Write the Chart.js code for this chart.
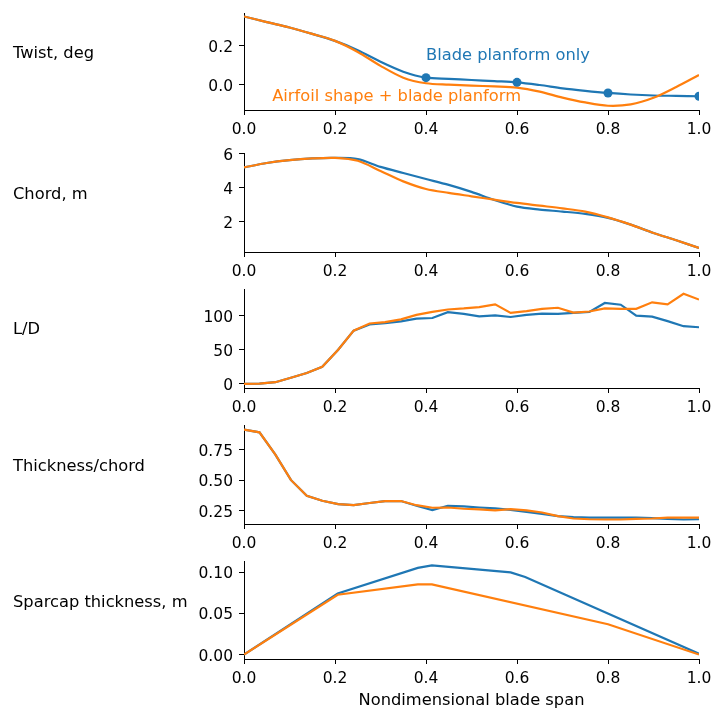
<!DOCTYPE html>
<html>
<head>
<meta charset="utf-8">
<script src="https://cdn.jsdelivr.net/npm/chart.js@4.4.1/dist/chart.umd.min.js"></script>
<style>
html,body{margin:0;padding:0;background:#fff;}
#wrap{position:relative;width:712px;height:711px;overflow:hidden;background:#fff;}
#wrap canvas{position:absolute;left:0;}
</style>
</head>
<body>
<div id="wrap"></div>
<script>
// ---------- data ----------
const spanTwist = [0,0.05,0.1,0.15,0.2,0.25,0.3,0.35,0.4,0.45,0.5,0.55,0.6,0.65,0.7,0.75,0.8,0.85,0.9,0.95,1.0];
const twistPlanform = [0.352,0.323,0.295,0.262,0.226,0.178,0.118,0.067,0.036,0.030,0.024,0.018,0.012,-0.002,-0.019,-0.032,-0.043,-0.051,-0.056,-0.058,-0.060];
const twistAirfoil  = [0.352,0.323,0.295,0.262,0.226,0.169,0.097,0.036,0.007,0.000,-0.005,-0.009,-0.015,-0.036,-0.067,-0.092,-0.109,-0.102,-0.068,-0.012,0.050];
const twistCtrlSpan = [0.4,0.6,0.8,1.0];
const twistCtrlValues = [0.036,0.012,-0.043,-0.060];

const spanChord = [0,0.05,0.1,0.15,0.2,0.25,0.3,0.35,0.4,0.45,0.5,0.55,0.6,0.65,0.7,0.75,0.8,0.85,0.9,0.95,1.0];
const chordPlanform = [5.19,5.45,5.62,5.72,5.75,5.68,5.22,4.86,4.51,4.16,3.75,3.27,2.88,2.71,2.59,2.45,2.22,1.82,1.33,0.90,0.45];
const chordAirfoil  = [5.19,5.45,5.62,5.72,5.75,5.58,4.98,4.37,3.92,3.69,3.49,3.29,3.10,2.94,2.78,2.59,2.25,1.82,1.33,0.90,0.45];

const spanAero = [0,0.034,0.069,0.103,0.138,0.172,0.207,0.241,0.276,0.31,0.345,0.379,0.414,0.448,0.483,0.517,0.552,0.586,0.621,0.655,0.69,0.724,0.759,0.793,0.828,0.862,0.897,0.931,0.966,1.0];
const ldPlanform = [0,0.3,2.5,9,16,25,50,78,87,89,91.5,95.5,96.5,105,102.5,99,100.5,98,101,103,102.5,104,105.5,118.5,116,100,98.5,92,84.5,83];
const ldAirfoil  = [0,0.3,2.5,9,16,25,50,78,88.5,90.5,94.5,101,105.5,109,110.5,112.5,116.5,104,106.5,110,111.5,104.5,106,110.5,110,110,119.5,116.5,132,123.5];
const tcPlanform = [0.916,0.893,0.71,0.503,0.374,0.332,0.305,0.297,0.314,0.33,0.33,0.291,0.256,0.291,0.286,0.277,0.27,0.258,0.242,0.225,0.206,0.198,0.195,0.195,0.195,0.195,0.19,0.184,0.179,0.181];
const tcAirfoil  = [0.916,0.893,0.71,0.503,0.374,0.332,0.305,0.297,0.314,0.33,0.33,0.296,0.275,0.277,0.267,0.261,0.253,0.264,0.253,0.236,0.206,0.187,0.181,0.179,0.179,0.184,0.187,0.195,0.195,0.195];

const spanSparPlanform = [0,0.206,0.382,0.413,0.586,0.618,1.0];
const sparPlanform = [0,0.074,0.105,0.108,0.0996,0.094,0.001];
const spanSparAirfoil = [0,0.206,0.382,0.413,0.8,1.0];
const sparAirfoil = [0,0.0725,0.085,0.085,0.0368,0];

const xTicks = [0,0.2,0.4,0.6,0.8,1.0];
const twistTicks = [0.0,0.2];
const chordTicks = [2,4,6];
const ldTicks = [0,50,100];
const tcTicks = [0.25,0.50,0.75];
const sparTicks = [0.00,0.05,0.10];

const panelLabels = ['Twist, deg','Chord, m','L/D','Thickness/chord','Sparcap thickness, m'];
const xTitle = 'Nondimensional blade span';
const seriesNames = ['Blade planform only','Airfoil shape + blade planform'];

// ---------- styling ----------
const BLUE = '#1f77b4', ORANGE = '#ff7f0e';
const FONT = '"DejaVu Sans", sans-serif';
const FS_TICK = 15.5;
const FS_TEXT = 16.3;
Chart.defaults.font.family = FONT;
Chart.defaults.font.size = FS_TICK;
Chart.defaults.color = '#000';

function xy(xs, ys){ return xs.map((x,i)=>({x:x, y:ys[i]})); }
function line(xs, ys, color, order, tension){
  return {data: xy(xs, ys), borderColor: color, backgroundColor: color, borderWidth: 2.2,
          pointRadius: 0, fill: false, tension: tension || 0, order: order};
}

const panels = [
  {top:13, bottom:110, ymin:-0.131, ymax:0.370, ticks:twistTicks, dec:1, base:57.5,
   datasets:[
     {data: xy(twistCtrlSpan, twistCtrlValues), showLine:false, pointRadius:4.5, pointHoverRadius:4.5,
      pointBackgroundColor:BLUE, pointBorderColor:BLUE, pointBorderWidth:0, order:0},
     line(spanTwist, twistAirfoil, ORANGE, 1, 0.3),
     line(spanTwist, twistPlanform, BLUE, 2, 0.3)
   ], notes:true},
  {top:153, bottom:252, ymin:0.21, ymax:6.04, ticks:chordTicks, dec:0, base:199,
   datasets:[ line(spanChord, chordAirfoil, ORANGE, 1, 0.3), line(spanChord, chordPlanform, BLUE, 2, 0.3) ]},
  {top:289, bottom:388, ymin:-6, ymax:139, ticks:ldTicks, dec:0, base:334,
   datasets:[ line(spanAero, ldAirfoil, ORANGE, 1), line(spanAero, ldPlanform, BLUE, 2) ]},
  {top:425, bottom:524, ymin:0.142, ymax:0.953, ticks:tcTicks, dec:2, base:471,
   datasets:[ line(spanAero, tcAirfoil, ORANGE, 1), line(spanAero, tcPlanform, BLUE, 2) ]},
  {top:561, bottom:659, ymin:-0.0054, ymax:0.1134, ticks:sparTicks, dec:2, base:607,
   datasets:[ line(spanSparAirfoil, sparAirfoil, ORANGE, 1), line(spanSparPlanform, sparPlanform, BLUE, 2) ]}
];

const wrap = document.getElementById('wrap');
const PADTOP = 20;

panels.forEach((p, i) => {
  const last = i === panels.length - 1;
  const canvasTop = p.top - PADTOP;
  const plotH = p.bottom - p.top;
  const canvasH = last ? 711 - canvasTop : plotH + PADTOP + 32;
  const xAxisH = canvasH - PADTOP - plotH;
  const c = document.createElement('canvas');
  c.width = 712; c.height = canvasH;
  c.style.width = '712px'; c.style.height = canvasH + 'px';
  c.style.top = canvasTop + 'px';
  wrap.appendChild(c);

  const labelPlugin = {
    id: 'panelLabel' + i,
    afterDraw(chart){
      const ctx = chart.ctx;
      ctx.save();
      ctx.font = FS_TEXT + 'px ' + FONT;
      ctx.fillStyle = '#000';
      ctx.textAlign = 'left';
      ctx.textBaseline = 'alphabetic';
      ctx.fillText(panelLabels[i], 13, p.base - canvasTop);
      if (p.notes) {
        const xs = chart.scales.x, ys = chart.scales.y;
        ctx.fillStyle = BLUE;
        ctx.fillText(seriesNames[0], xs.getPixelForValue(0.4), ys.getPixelForValue(0.129));
        ctx.fillStyle = ORANGE;
        ctx.fillText(seriesNames[1], xs.getPixelForValue(0.062), ys.getPixelForValue(-0.086));
      }
      ctx.restore();
    }
  };

  const gridOpts = {drawOnChartArea:false, drawTicks:true, tickLength:5, color:'#000', lineWidth:1};
  const borderOpts = {display:true, color:'#000', width:1};

  new Chart(c, {
    type: 'line',
    data: {datasets: p.datasets},
    options: {
      responsive: false, animation: false, devicePixelRatio: 1, events: [],
      layout: {padding: {top: PADTOP, right: 13, left: 0, bottom: 0}},
      plugins: {legend: {display: false}, tooltip: {enabled: false}},
      scales: {
        x: {
          type: 'linear', min: 0, max: 1,
          afterBuildTicks: s => { s.ticks = xTicks.map(v => ({value: v})); },
          ticks: {callback: v => Number(v).toFixed(1), padding: 6, maxRotation: 0, autoSkip: false},
          grid: gridOpts, border: borderOpts,
          title: last ? {display: true, text: xTitle, color: '#000', font: {size: FS_TEXT}, padding: {top: 0, bottom: 0.5}} : {display: false},
          afterFit: s => { s.height = xAxisH; s.paddingLeft = 0; s.paddingRight = 0; }
        },
        y: {
          type: 'linear', min: p.ymin, max: p.ymax,
          afterBuildTicks: s => { s.ticks = p.ticks.map(v => ({value: v})); },
          ticks: {callback: v => Number(v).toFixed(p.dec), padding: 6, autoSkip: false, labelOffset: 2},
          grid: gridOpts, border: borderOpts,
          afterFit: s => { s.width = 244; s.paddingTop = 0; s.paddingBottom = 0; }
        }
      }
    },
    plugins: [labelPlugin]
  });
});
</script>
</body>
</html>
